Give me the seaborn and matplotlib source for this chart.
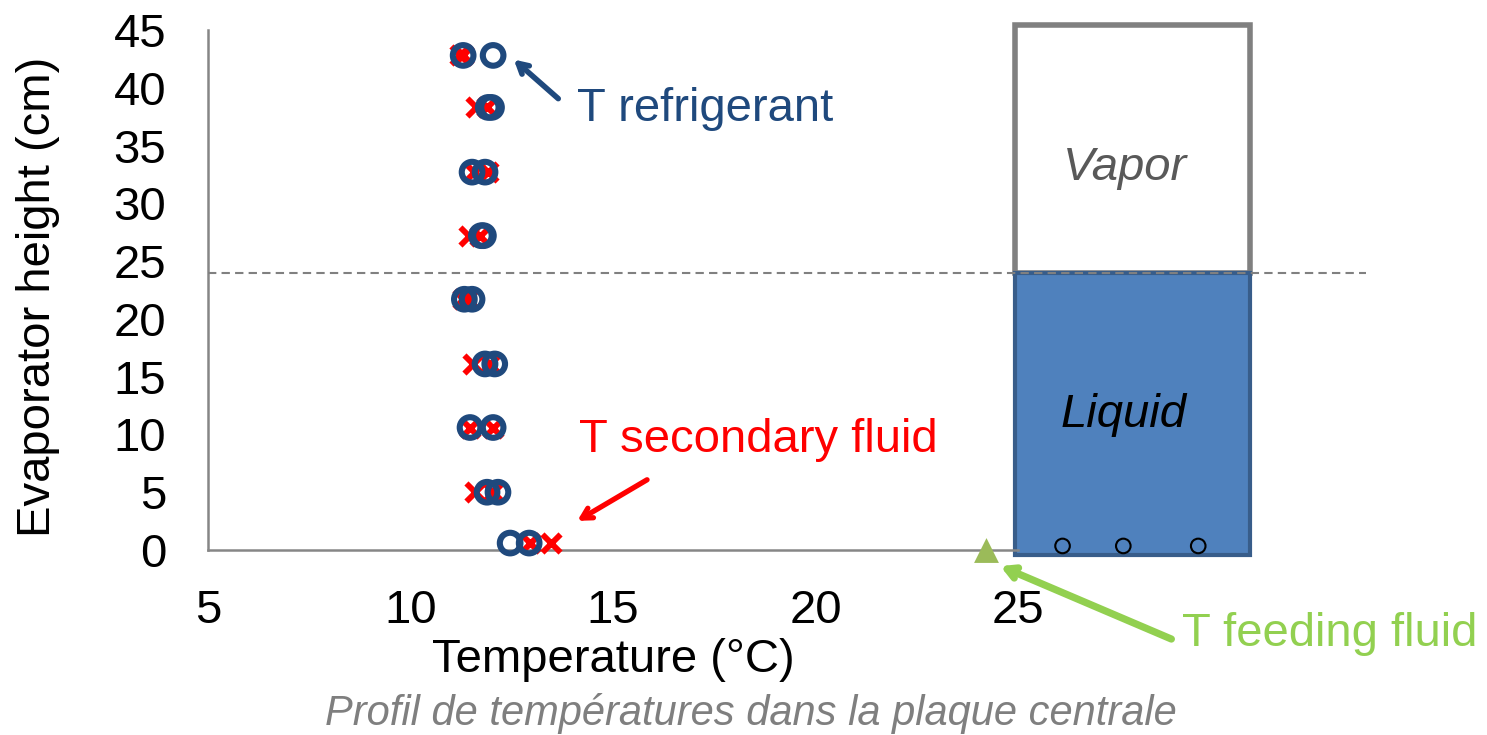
import matplotlib
matplotlib.use("Agg")
import matplotlib.pyplot as plt
import matplotlib.patches as mpatches
import seaborn as sns
import pandas as pd

# Measured temperature profile along the central plate
heights = [42.8, 38.3, 32.7, 27.2, 21.7, 16.1, 10.6, 5.0, 0.6]
t_refrigerant_a = [11.30, 11.92, 11.52, 11.75, 11.33, 11.84, 11.47, 11.89, 12.46]
t_refrigerant_b = [12.04, 12.00, 11.84, 11.80, 11.52, 12.08, 12.04, 12.16, 12.93]
t_secondary_a = [11.22, 11.62, 11.58, 11.45, 11.30, 11.55, 11.47, 11.60, 12.95]
t_secondary_b = [11.30, 11.90, 11.92, 11.72, 11.42, 11.96, 12.04, 12.04, 13.48]

# Feeding fluid inlet temperature
t_feeding = [24.2]
h_feeding = [0.0]

# Bubbles drawn at the bottom of the liquid column
bubble_x = [26.1, 27.6, 29.45]
bubble_y = [0.35, 0.35, 0.35]

liquid_level = 24.0
x_ticks = [5, 10, 15, 20, 25]
y_ticks = [0, 5, 10, 15, 20, 25, 30, 35, 40, 45]

BLUE = "#1F497D"
RED = "#FF0000"
GREEN = "#92D050"
OLIVE = "#9BBB59"
GRAY = "#868686"
FS = 34

sns.set_theme(style="white")
plt.rcParams["font.family"] = ["Liberation Sans", "DejaVu Sans"]

fig = plt.figure(figsize=(14.87, 7.35), dpi=100)
ax = fig.add_axes([208 / 1487, 1 - 550 / 735, 29 * 40.5 / 1487, 520 / 735])
ax.set_xlim(5, 34)
ax.set_ylim(0, 45)

refr = pd.DataFrame({"T": t_refrigerant_a + t_refrigerant_b, "h": heights + heights})
sec = pd.DataFrame({"T": t_secondary_a + t_secondary_b, "h": heights + heights})

# Container: vapor space above the liquid column
vapor = mpatches.Rectangle((24.93, liquid_level), 30.73 - 24.93, 45.4 - liquid_level,
                           facecolor="white", edgecolor="#808080", lw=4.0,
                           clip_on=False, zorder=2, joinstyle="miter")
liquid = mpatches.Rectangle((24.93, -0.4), 30.73 - 24.93, liquid_level + 0.4,
                            facecolor="#4F81BD", edgecolor="#385D8A", lw=3.0,
                            clip_on=False, zorder=2.1, joinstyle="miter")
ax.add_patch(vapor)
ax.add_patch(liquid)

ax.hlines(liquid_level, 5, 33.6, colors="#808080", linestyles=(0, (4, 2.5)),
          lw=1.5, zorder=3, clip_on=False)

ax.text(27.64, 33.1, "Vapor", fontsize=FS, style="italic", color="#595959",
        ha="center", va="center", zorder=4)
ax.text(27.6, 11.7, "Liquid", fontsize=FS, style="italic", color="black",
        ha="center", va="center", zorder=4)

sns.scatterplot(data=sec, x="T", y="h", marker="x", color=RED, s=170,
                linewidth=4.2, ax=ax, zorder=5, clip_on=False)
sns.scatterplot(data=refr, x="T", y="h", marker="o", s=220,
                facecolors="none", edgecolor=BLUE, linewidth=4.4,
                ax=ax, zorder=6, clip_on=False)
sns.scatterplot(x=bubble_x, y=bubble_y, marker="o", s=110, facecolors="none",
                edgecolor="black", linewidth=1.5, ax=ax, zorder=5, clip_on=False)
sns.scatterplot(x=t_feeding, y=h_feeding, marker="^", color=OLIVE, s=320,
                linewidth=0, ax=ax, zorder=6, clip_on=False)

# Axes styling
for side in ["top", "right"]:
    ax.spines[side].set_visible(False)
for side in ["left", "bottom"]:
    ax.spines[side].set_color(GRAY)
    ax.spines[side].set_linewidth(1.8)
ax.spines["bottom"].set_bounds(5, 25)
ax.set_xticks(x_ticks)
ax.set_yticks(y_ticks)
ax.tick_params(axis="both", which="major", direction="out", length=9, width=1.8,
               color=GRAY, labelsize=FS, labelcolor="black")
ax.tick_params(axis="y", pad=21)
ax.tick_params(axis="x", pad=19)
ax.set_xlabel("Temperature (°C)", fontsize=FS, color="black")
ax.xaxis.label.set_va("center")
ax.xaxis.set_label_coords((15 - 5) / 29, -(660 - 550) / 520)
ax.set_ylabel("Evaporator height (cm)", fontsize=FS, color="black")
ax.yaxis.label.set_va("center")
ax.yaxis.set_label_coords(-(208 - 38) / (29 * 40.5), (550 - 297) / 520)

# Annotations
arrow_kw = dict(arrowstyle="->, head_length=0.6, head_width=0.33")
ax.annotate("", xy=(12.5, 42.6), xytext=(13.7, 38.9),
            arrowprops=dict(color=BLUE, lw=4.0, **arrow_kw), annotation_clip=False)
ax.text(14.1, 38.2, "T refrigerant", fontsize=FS, color=BLUE, ha="left", va="center")

ax.annotate("", xy=(14.06, 2.4), xytext=(15.9, 6.2),
            arrowprops=dict(color=RED, lw=3.8, **arrow_kw), annotation_clip=False)
ax.text(14.15, 9.5, "T secondary fluid", fontsize=FS, color=RED, ha="left", va="center")

ax.annotate("", xy=(24.5, -1.3), xytext=(28.85, -7.8),
            arrowprops=dict(color=GREEN, lw=5.2, **arrow_kw), annotation_clip=False)
ax.text(29.05, -7.25, "T feeding fluid", fontsize=FS, color=GREEN, ha="left", va="center")

fig.text(751 / 1487, 1 - 713 / 735, "Profil de températures dans la plaque centrale",
         fontsize=30, style="italic", color="#7F7F7F", ha="center", va="center")

fig.savefig("out.png", dpi=100)
